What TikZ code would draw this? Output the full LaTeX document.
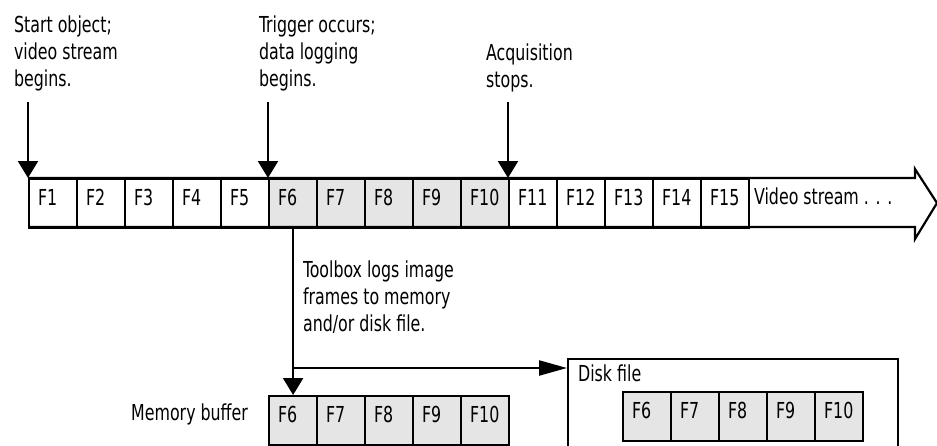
\documentclass[tikz,border=0pt]{standalone}
\usepackage{fontspec}
\setmainfont[FakeStretch=0.8]{DejaVu Sans Condensed}
\usetikzlibrary{arrows.meta}

\tikzset{
  frame/.style={draw, anchor=north west, inner xsep=9pt, inner ysep=0pt, text width=30pt, align=left, text height=26pt, text depth=23pt},
  logged/.style={frame, fill=gray!20},
  note/.style={anchor=north west, inner sep=0pt, align=left},
  down/.style={-{Triangle[width=20pt,length=17pt]}},
  over/.style={-{Triangle[width=15pt,length=28pt]}}
}

\begin{document}
\begin{tikzpicture}[x=1pt,y=-1pt,line width=2.2pt,font=\fontsize{22}{27}\selectfont]
\useasboundingbox (0,0) rectangle (937,445);
% frames of the video stream
\foreach \i in {1,2,3,4,5,11,12,13,14,15}
  \node[frame] (f\i) at ({28+48*(\i-1)},178) {F\i};
\foreach \i in {6,...,10}
  \node[logged] (f\i) at ({28+48*(\i-1)},178) {F\i};
\draw (28,178) -- (915,178) -- (915,169) -- (937,203) -- (915,239) -- (915,227) -- (28,227);
\node[anchor=base west, inner sep=0pt] (stream) at (753,204) {Video stream . . .};

% events
\node[note] (start) at (13,15) {Start object;\\video stream\\begins.};
\node[note] (trigger) at (258,15) {Trigger occurs;\\data logging\\begins.};
\node[note] (stop) at (485,43) {Acquisition\\stops.};
\coordinate (start top) at (28,102);
\coordinate (trigger top) at (268,102);
\coordinate (stop top) at (508,102);
\draw[down] (start top) -- (f1.north west);
\draw[down] (trigger top) -- (f6.north west);
\draw[down] (stop top) -- (f11.north west);

% logging
\node[note] (logs) at (302,260) {Toolbox logs image\\frames to memory\\and/or disk file.};
\node[anchor=base east, inner sep=0pt] (memory) at (249,420) {Memory buffer};
\foreach \i [count=\k] in {6,...,10}
  \node[logged] (m\i) at ({268+48*(\k-1)},395) {F\i};
\node[draw, anchor=north west, minimum width=330pt, minimum height=120pt, inner sep=0pt] (disk) at (567,358) {};
\node[note] (disk label) at (577,364) {Disk file};
\foreach \i [count=\k] in {6,...,10}
  \node[logged] (d\i) at ({622+48*(\k-1)},391) {F\i};
\draw[down] (f6.south) -- (m6.north);
\coordinate (split) at (292,368);
\draw[over] (split) -- (split -| disk.west);
\end{tikzpicture}
\end{document}
